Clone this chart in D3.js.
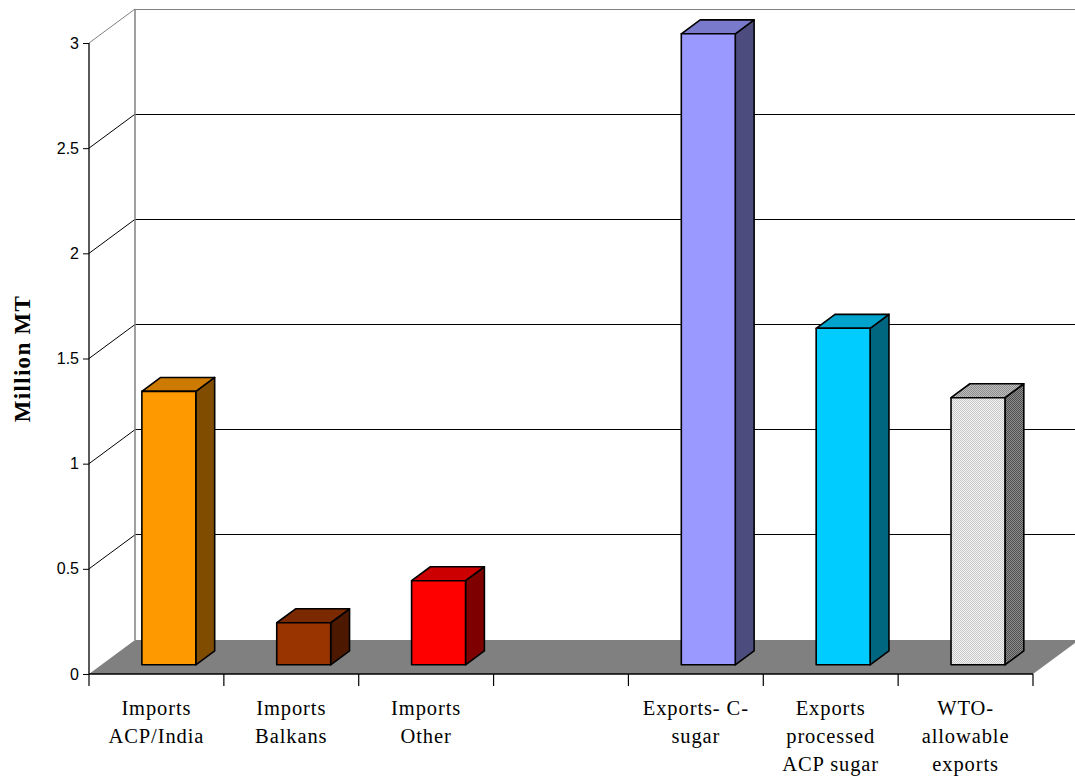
<!DOCTYPE html>
<html><head><meta charset="utf-8">
<script src="https://cdn.jsdelivr.net/npm/d3@7"></script>
<style>body{margin:0;background:#fff}svg{display:block}</style>
</head><body>
<svg id="chart" width="1075" height="779"></svg>
<script>
const categories = ["Imports ACP/India", "Imports Balkans", "Imports Other", "", "Exports- C- sugar", "Exports processed ACP sugar", "WTO- allowable exports"];
const labelLines = [["Imports","ACP/India"],["Imports","Balkans"],["Imports","Other"],[],["Exports- C-","sugar"],["Exports","processed","ACP sugar"],["WTO-","allowable","exports"]];
const values = [1.3, 0.2, 0.4, null, 3.0, 1.6, 1.27];
const frontColors = ["#FF9900","#993300","#FF0000",null,"#9999FF","#00CCFF","url(#patFront)"];
const topColors = ["#CC7A00","#7A2900","#CC0000",null,"#7A7ACC","#00A3CC","url(#patTop)"];
const sideColors = ["#7F4C00","#4C1900","#7F0000",null,"#4C4C7F","#00667F","url(#patSide)"];
const yTicks = [0,0.5,1,1.5,2,2.5,3];
const yTickLabels = ["0","0.5","1","1.5","2","2.5","3"];

const svg = d3.select("#chart");
const defs = svg.append("defs");
function checker(id, a, b){
  const p = defs.append("pattern").attr("id",id).attr("width",2).attr("height",2).attr("patternUnits","userSpaceOnUse");
  p.append("rect").attr("width",2).attr("height",2).attr("fill",a);
  p.append("rect").attr("width",1).attr("height",1).attr("fill",b);
  p.append("rect").attr("x",1).attr("y",1).attr("width",1).attr("height",1).attr("fill",b);
}
checker("patFront","#F4F4F4","#C8C8C8");
checker("patTop","#C0C0C0","#8C8C8C");
checker("patSide","#8C8C8C","#505050");

const x = d3.scaleBand().domain(categories.map((c,i)=>i)).range([89,1033]).padding(0);
const y = d3.scaleLinear().domain([0,3]).range([674,43]);
const DX = 46, DY = -34;
const f1 = 0.27, f2 = 0.68;

// floor
svg.append("polygon")
  .attr("points",[[89,y(0)],[1033,y(0)],[1033+DX,y(0)+DY],[89+DX,y(0)+DY]].map(p=>p.join(",")).join(" "))
  .attr("fill","#808080");

// back wall gridlines and left wall diagonals
yTicks.forEach(v=>{
  if (v===0) return;
  const col = v===3 ? "#808080" : "#000";
  svg.append("line").attr("x1",89+DX).attr("x2",1033+DX+10).attr("y1",y(v)+DY).attr("y2",y(v)+DY)
    .attr("stroke",col).attr("stroke-width",1).attr("shape-rendering","crispEdges");
  svg.append("line").attr("x1",89).attr("y1",y(v)).attr("x2",89+DX).attr("y2",y(v)+DY)
    .attr("stroke",col).attr("stroke-width",1);
});
svg.append("line").attr("x1",89+DX).attr("x2",89+DX).attr("y1",y(3)+DY).attr("y2",y(0)+DY)
  .attr("stroke","#808080").attr("stroke-width",1.5);

// bars
const bw = x.bandwidth()*0.4;
const g = svg.append("g");
categories.forEach((c,i)=>{
  const v = values[i];
  if (v==null) return;
  const x0 = x(i) + x.bandwidth()*0.3 + DX*f1;
  const x1 = x0 + bw;
  const yt = y(v) + DY*f1, yb = y(0) + DY*f1;
  const ddx = DX*(f2-f1), ddy = DY*(f2-f1);
  const st = {stroke:"#000","stroke-width":1.6,"stroke-linejoin":"round"};
  const poly = (pts, fill)=>{
    const p = g.append("polygon").attr("points",pts.map(q=>q.join(",")).join(" ")).attr("fill",fill);
    Object.entries(st).forEach(([k,val])=>p.attr(k,val));
  };
  poly([[x1,yt],[x1+ddx,yt+ddy],[x1+ddx,yb+ddy],[x1,yb]], sideColors[i]);
  poly([[x0,yt],[x0+ddx,yt+ddy],[x1+ddx,yt+ddy],[x1,yt]], topColors[i]);
  poly([[x0,yt],[x1,yt],[x1,yb],[x0,yb]], frontColors[i]);
});

// y axis
const yAxis = d3.axisLeft(y).tickValues(yTicks).tickFormat((d,i)=>yTickLabels[i]).tickSize(6).tickPadding(4);
const ya = svg.append("g").attr("transform","translate(89,0)").call(yAxis);
ya.select(".domain").attr("d",`M0,${y(3)}V${y(0)}`).attr("stroke","#000").attr("stroke-width",1.3);
ya.selectAll(".tick line").attr("stroke","#000");
ya.selectAll(".tick text").attr("font-family","'Liberation Sans', Arial, sans-serif").attr("font-size",16).attr("fill","#000");

// x axis
const xa = svg.append("g").attr("transform",`translate(0,${y(0)})`);
xa.append("line").attr("x1",89).attr("x2",1033).attr("y1",0).attr("y2",0).attr("stroke","#000").attr("stroke-width",1.3);
const edges = categories.map((c,i)=>x(i)).concat([1033]);
xa.selectAll("line.tk").data(edges).enter().append("line").attr("class","tk")
  .attr("x1",d=>d).attr("x2",d=>d).attr("y1",0).attr("y2",12).attr("stroke","#000").attr("stroke-width",1.2);
categories.forEach((c,i)=>{
  const t = xa.append("text").attr("text-anchor","middle")
    .attr("font-family","'Liberation Serif', 'Times New Roman', serif").attr("font-size",20.5)
    .attr("letter-spacing",0.9).attr("fill","#000");
  labelLines[i].forEach((ln,j)=>{
    t.append("tspan").attr("x",x(i)+x.bandwidth()/2).attr("y",41+j*28).text(ln);
  });
});

// y title
svg.append("text").attr("transform",`translate(30,${(y(0)+y(3))/2}) rotate(-90)`)
  .attr("text-anchor","middle").attr("font-family","'Liberation Serif', 'Times New Roman', serif")
  .attr("font-weight","bold").attr("font-size",23).attr("letter-spacing",1.3).text("Million MT");
</script>
</body></html>
